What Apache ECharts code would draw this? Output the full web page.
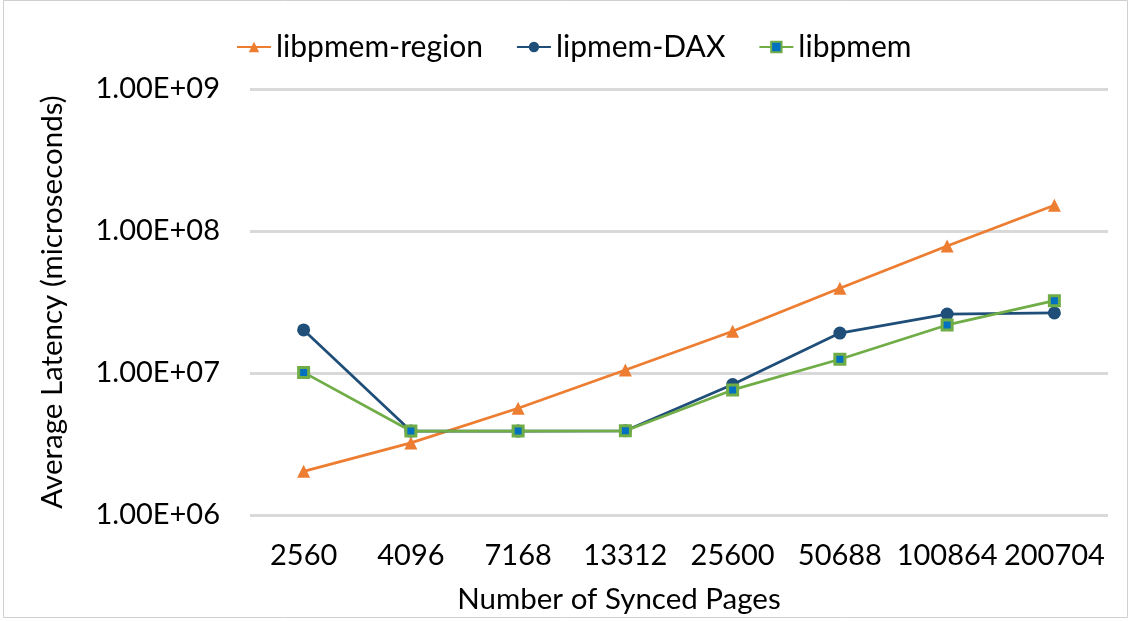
<!DOCTYPE html>
<html>
<head>
<meta charset="utf-8">
<script src="https://cdn.jsdelivr.net/npm/echarts@6/dist/echarts.min.js"></script>
<style>
  html, body { margin: 0; padding: 0; background: #fff; }
  #chart { width: 1135px; height: 621px; }
</style>
</head>
<body>
<div id="chart"></div>
<script>
// Number of synced pages (x categories)
const pages = ['2560', '4096', '7168', '13312', '25600', '50688', '100864', '200704'];

// Average latency in microseconds per configuration
const libpmemRegion = [2.03e6, 3.22e6, 5.65e6, 1.05e7, 1.97e7, 3.95e7, 7.84e7, 1.52e8];
const lipmemDAX     = [2.01e7, 3.9e6, 3.9e6, 3.92e6, 8.3e6, 1.91e7, 2.6e7, 2.65e7];
const libpmem       = [1.01e7, 3.9e6, 3.9e6, 3.92e6, 7.6e6, 1.25e7, 2.18e7, 3.23e7];

const FONT = 'Lato, "Open Sans", sans-serif';
const FS = 29;

function sciLabel(v) {
  const e = Math.round(Math.log10(v));
  return '1.00E+' + (e < 10 ? '0' + e : e);
}

const chart = echarts.init(document.getElementById('chart'), null, { renderer: 'canvas' });

chart.setOption({
  backgroundColor: '#ffffff',
  animation: false,
  graphic: [{
    type: 'rect',
    shape: { x: 3.5, y: 0.5, width: 1124, height: 617 },
    style: { fill: 'none', stroke: '#d0d0d0', lineWidth: 1 },
    silent: true
  }],
  legend: {
    top: 27,
    left: 231,
    itemWidth: 34,
    itemHeight: 13,
    itemGap: 33,
    textStyle: { fontFamily: FONT, fontSize: 30, color: '#000' },
    data: ['libpmem-region', 'lipmem-DAX', 'libpmem']
  },
  grid: { left: 250, right: 27, top: 89, bottom: 106 },
  xAxis: {
    type: 'category',
    data: pages,
    boundaryGap: true,
    name: 'Number of Synced Pages',
    nameLocation: 'middle',
    nameGap: 69,
    nameTextStyle: { fontFamily: FONT, fontSize: 29.5, color: '#000', padding: [0, 120, 0, 0] },
    axisLine: { show: false },
    axisTick: { show: false },
    axisLabel: { fontFamily: FONT, fontSize: FS, color: '#000', margin: 26, interval: 0 }
  },
  yAxis: {
    type: 'log',
    logBase: 10,
    min: 1e6,
    max: 1e9,
    name: 'Average Latency (microseconds)',
    nameLocation: 'middle',
    nameGap: 183,
    nameTextStyle: { fontFamily: FONT, fontSize: 29.5, color: '#000' },
    axisLine: { show: false },
    axisTick: { show: false },
    splitLine: { lineStyle: { color: '#d9d9d9', width: 3 } },
    axisLabel: { fontFamily: FONT, fontSize: FS, color: '#000', margin: 30, formatter: sciLabel }
  },
  series: [
    {
      name: 'libpmem-region',
      type: 'line',
      data: libpmemRegion,
      symbol: 'triangle',
      symbolSize: 13,
      lineStyle: { color: '#ed7d31', width: 2.75 },
      itemStyle: { color: '#ed7d31' },
      z: 2
    },
    {
      name: 'lipmem-DAX',
      type: 'line',
      data: lipmemDAX,
      symbol: 'circle',
      symbolSize: 13,
      lineStyle: { color: '#1f4e79', width: 2.75 },
      itemStyle: { color: '#1f4e79' },
      z: 3
    },
    {
      name: 'libpmem',
      type: 'line',
      data: libpmem,
      symbol: 'rect',
      symbolSize: 10,
      lineStyle: { color: '#70ad47', width: 2.75 },
      itemStyle: { color: '#0070c0', borderColor: '#70ad47', borderWidth: 3 },
      z: 4
    }
  ]
});
</script>
</body>
</html>
